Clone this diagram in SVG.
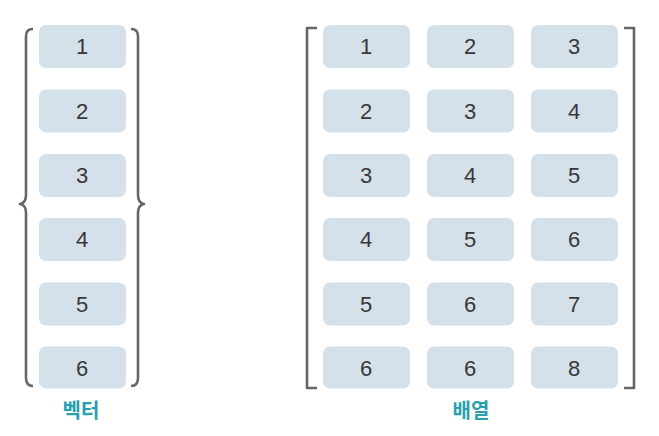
<svg xmlns="http://www.w3.org/2000/svg" width="659" height="436" viewBox="0 0 659 436">
<style>
.box rect{fill:#d4e1ea}
.box text{font-family:"Liberation Sans",Arial,sans-serif;font-size:22px;fill:#383838;text-anchor:middle}
.br{fill:none;stroke:#666;stroke-width:2.6;stroke-linejoin:round}
.lbl{font-family:"Noto Sans CJK KR","Noto Sans",sans-serif;font-size:20px;font-weight:bold;fill:#2a9fad;text-anchor:middle}
</style>
<rect width="659" height="436" fill="#fff"/>
<g id="brackets">
<path class="br" d="M33,29 Q26,29 26,36 L26,195 Q26,203 20,204 Q26,205 26,213 L26,378 Q26,386 33,386"/>
<path class="br" d="M131,29 Q138,29 138,36 L138,195 Q138,203 144,204 Q138,205 138,213 L138,378 Q138,386 131,386"/>
<path class="br" d="M317,28 L307,28 L307,388 L317,388"/>
<path class="br" d="M624,28 L634,28 L634,388 L624,388"/>
</g>
<g id="vector">
<g class="box" id="v1"><rect x="39" y="25" width="87" height="43" rx="7"/><text x="82" y="54">1</text></g>
<g class="box" id="v2"><rect x="39" y="89.5" width="87" height="43" rx="7"/><text x="82" y="118.5">2</text></g>
<g class="box" id="v3"><rect x="39" y="154" width="87" height="43" rx="7"/><text x="82" y="183">3</text></g>
<g class="box" id="v4"><rect x="39" y="218" width="87" height="43" rx="7"/><text x="82" y="247">4</text></g>
<g class="box" id="v5"><rect x="39" y="282.5" width="87" height="43" rx="7"/><text x="82" y="311.5">5</text></g>
<g class="box" id="v6"><rect x="39" y="346.5" width="87" height="42" rx="7"/><text x="82" y="375.5">6</text></g>
</g>
<g id="matrix">
<g class="box" id="m11"><rect x="323" y="25" width="87" height="43" rx="7"/><text x="366" y="54">1</text></g>
<g class="box" id="m12"><rect x="427" y="25" width="87" height="43" rx="7"/><text x="470" y="54">2</text></g>
<g class="box" id="m13"><rect x="531" y="25" width="87" height="43" rx="7"/><text x="574" y="54">3</text></g>
<g class="box" id="m21"><rect x="323" y="89.5" width="87" height="43" rx="7"/><text x="366" y="118.5">2</text></g>
<g class="box" id="m22"><rect x="427" y="89.5" width="87" height="43" rx="7"/><text x="470" y="118.5">3</text></g>
<g class="box" id="m23"><rect x="531" y="89.5" width="87" height="43" rx="7"/><text x="574" y="118.5">4</text></g>
<g class="box" id="m31"><rect x="323" y="154" width="87" height="43" rx="7"/><text x="366" y="183">3</text></g>
<g class="box" id="m32"><rect x="427" y="154" width="87" height="43" rx="7"/><text x="470" y="183">4</text></g>
<g class="box" id="m33"><rect x="531" y="154" width="87" height="43" rx="7"/><text x="574" y="183">5</text></g>
<g class="box" id="m41"><rect x="323" y="218" width="87" height="43" rx="7"/><text x="366" y="247">4</text></g>
<g class="box" id="m42"><rect x="427" y="218" width="87" height="43" rx="7"/><text x="470" y="247">5</text></g>
<g class="box" id="m43"><rect x="531" y="218" width="87" height="43" rx="7"/><text x="574" y="247">6</text></g>
<g class="box" id="m51"><rect x="323" y="282.5" width="87" height="43" rx="7"/><text x="366" y="311.5">5</text></g>
<g class="box" id="m52"><rect x="427" y="282.5" width="87" height="43" rx="7"/><text x="470" y="311.5">6</text></g>
<g class="box" id="m53"><rect x="531" y="282.5" width="87" height="43" rx="7"/><text x="574" y="311.5">7</text></g>
<g class="box" id="m61"><rect x="323" y="346.5" width="87" height="42" rx="7"/><text x="366" y="375.5">6</text></g>
<g class="box" id="m62"><rect x="427" y="346.5" width="87" height="42" rx="7"/><text x="470" y="375.5">6</text></g>
<g class="box" id="m63"><rect x="531" y="346.5" width="87" height="42" rx="7"/><text x="574" y="375.5">8</text></g>
</g>
<text class="lbl" x="81" y="418">벡터</text>
<text class="lbl" x="471" y="418">배열</text>
</svg>
